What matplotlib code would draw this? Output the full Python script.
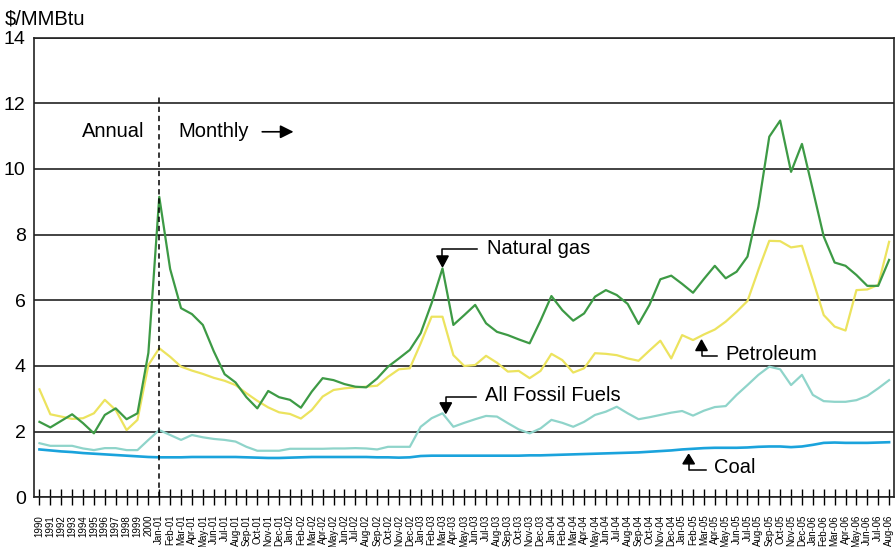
import matplotlib
matplotlib.use("Agg")
import matplotlib.pyplot as plt
from matplotlib.patches import Polygon
import numpy as np

plt.rcParams['font.family'] = ['Liberation Sans', 'DejaVu Sans']

months = ['Jan', 'Feb', 'Mar', 'Apr', 'May', 'Jun', 'Jul', 'Aug', 'Sep', 'Oct', 'Nov', 'Dec']
annual_labels = [str(y) for y in range(1990, 2001)]
monthly_labels = [f"{m}-{y:02d}" for y in range(1, 7) for m in months][:68]
tick_labels = annual_labels + monthly_labels

natural_gas = [2.30, 2.13, 2.33, 2.53, 2.26, 1.95, 2.51, 2.71, 2.38, 2.56, 4.40,
               9.15, 6.95, 5.76, 5.58, 5.25, 4.45, 3.75, 3.50, 3.05, 2.71, 3.24,
               3.05, 2.97, 2.73, 3.22, 3.63, 3.57, 3.45, 3.37, 3.35, 3.62, 3.98,
               4.23, 4.49, 5.00, 5.91, 6.97, 5.25, 5.55, 5.86, 5.30, 5.04, 4.94,
               4.81, 4.69, 5.38, 6.13, 5.70, 5.38, 5.60, 6.11, 6.31, 6.16, 5.89,
               5.28, 5.86, 6.64, 6.75, 6.50, 6.23, 6.65, 7.05, 6.67, 6.87, 7.33,
               8.85, 10.98, 11.47, 9.91, 10.76, 9.36, 7.94, 7.15, 7.05, 6.77,
               6.44, 6.44, 7.23]
petroleum = [3.29, 2.53, 2.46, 2.39, 2.41, 2.56, 2.97, 2.66, 2.05, 2.36, 4.03,
             4.54, 4.28, 3.98, 3.86, 3.76, 3.64, 3.55, 3.42, 3.17, 2.94, 2.74,
             2.59, 2.54, 2.40, 2.66, 3.07, 3.27, 3.32, 3.35, 3.37, 3.40, 3.67,
             3.90, 3.93, 4.69, 5.50, 5.50, 4.33, 4.00, 4.03, 4.31, 4.10, 3.83,
             3.85, 3.63, 3.85, 4.37, 4.18, 3.80, 3.93, 4.39, 4.37, 4.33, 4.23,
             4.16, 4.47, 4.77, 4.23, 4.94, 4.79, 4.96, 5.11, 5.35, 5.65, 5.98,
             6.92, 7.81, 7.80, 7.61, 7.66, 6.62, 5.55, 5.20, 5.08, 6.31, 6.33,
             6.47, 7.78]
fossil_fuels = [1.65, 1.57, 1.57, 1.57, 1.49, 1.44, 1.50, 1.50, 1.44, 1.44, 1.75,
                2.05, 1.90, 1.75, 1.90, 1.83, 1.78, 1.75, 1.70, 1.54, 1.42, 1.42,
                1.42, 1.48, 1.48, 1.48, 1.48, 1.49, 1.49, 1.50, 1.49, 1.46, 1.54,
                1.54, 1.54, 2.15, 2.41, 2.56, 2.15, 2.27, 2.38, 2.48, 2.46, 2.26,
                2.07, 1.95, 2.10, 2.36, 2.27, 2.15, 2.30, 2.51, 2.61, 2.76, 2.56,
                2.38, 2.44, 2.51, 2.58, 2.63, 2.49, 2.64, 2.75, 2.78, 3.12, 3.42,
                3.73, 3.98, 3.90, 3.42, 3.73, 3.12, 2.93, 2.91, 2.91, 2.96, 3.09,
                3.32, 3.57]
coal = [1.46, 1.43, 1.40, 1.38, 1.35, 1.33, 1.31, 1.29, 1.27, 1.25, 1.23,
        1.22, 1.22, 1.22, 1.23, 1.23, 1.23, 1.23, 1.23, 1.22, 1.21, 1.20,
        1.20, 1.21, 1.22, 1.23, 1.23, 1.23, 1.23, 1.23, 1.23, 1.22, 1.22,
        1.21, 1.22, 1.26, 1.27, 1.27, 1.27, 1.27, 1.27, 1.27, 1.27, 1.27,
        1.27, 1.28, 1.28, 1.29, 1.30, 1.31, 1.32, 1.33, 1.34, 1.35, 1.36,
        1.37, 1.39, 1.41, 1.43, 1.46, 1.48, 1.50, 1.51, 1.51, 1.51, 1.52,
        1.54, 1.55, 1.55, 1.53, 1.55, 1.60, 1.66, 1.67, 1.66, 1.66, 1.66,
        1.67, 1.68]

x = np.arange(len(tick_labels))

fig = plt.figure(figsize=(8.96, 5.47), dpi=100)
ax = fig.add_axes([34 / 896, 1 - 497.4 / 547, 860 / 896, (497.4 - 37.5) / 547])

ax.plot(x, coal, color='#1aa3dc', lw=1.9, zorder=3)
ax.plot(x, fossil_fuels, color='#8fd4ca', lw=1.6, zorder=3)
ax.plot(x, petroleum, color='#ece35e', lw=1.6, zorder=3)
ax.plot(x, natural_gas, color='#3d9a45', lw=1.6, zorder=4)

ax.set_xlim(-0.5, 78.45)
ax.set_ylim(0, 14)
ax.set_yticks(range(0, 15, 2))
ax.yaxis.grid(True, color='#222222', lw=1.2)
ax.set_axisbelow(True)
ax.tick_params(axis='y', length=0, pad=6, labelsize=14)
ax.set_xticks(x)
ax.set_xticklabels(tick_labels, rotation=90, fontsize=7)
ax.tick_params(axis='x', direction='inout', length=12, width=1, pad=6.5)
for s in ax.spines.values():
    s.set_color('#222222')
    s.set_linewidth(1.2)

# annual / monthly divider
ax.plot([11, 11], [0, 12.2], color='black', lw=1.1, ls=(0, (3.5, 2.5)), zorder=5)
ax.text((81.7 - 39) / 10.89, 11.13, 'Annual', fontsize=14.5, va='center', ha='left')
ax.text((178.3 - 39) / 10.89, 11.13, 'Monthly', fontsize=14.5, va='center', ha='left')
ax.annotate('', xy=((293 - 39) / 10.89, 11.13), xytext=((261.7 - 39) / 10.89, 11.13),
            arrowprops=dict(arrowstyle='-|>', color='black', lw=1.2,
                            mutation_scale=20, shrinkA=0, shrinkB=0))


def callout(cx, tip, base, corner, hend, tx, ty, label):
    w = 0.53
    ax.add_patch(Polygon([[cx - w, base], [cx + w, base], [cx, tip]], closed=True,
                         color='black', zorder=6))
    ax.plot([cx, cx, hend], [base, corner, corner], color='black', lw=1.1, zorder=6)
    ax.text(tx, ty, label, fontsize=14.5, va='center', ha='left', zorder=6)


callout(37.0, 7.02, 7.35, 7.55, 40.2, 41.07, 7.58, 'Natural gas')
callout(37.3, 2.56, 2.88, 3.05, 40.06, 40.9, 3.09, 'All Fossil Fuels')
callout(60.78, 4.79, 4.47, 4.30, 62.23, 62.94, 4.36, 'Petroleum')
callout(59.6, 1.31, 1.02, 0.83, 61.2, 61.96, 0.90, 'Coal')

fig.text(5 / 896, 1 - 19 / 547, '$/MMBtu', fontsize=14.5, va='center', ha='left')

fig.savefig('out.png', dpi=100)
